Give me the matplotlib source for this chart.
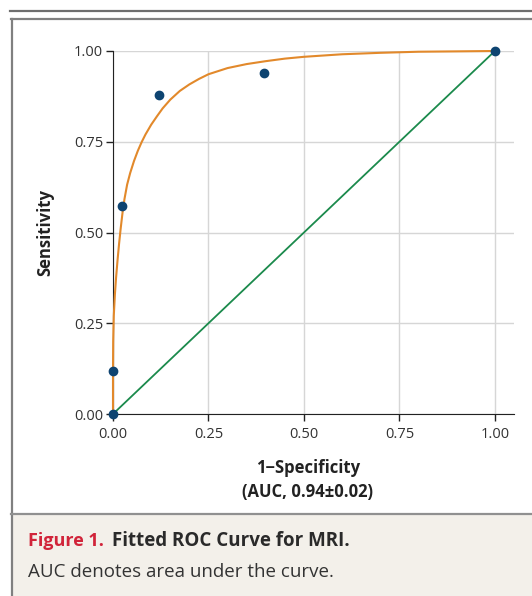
"""ROC-кривая для МРТ (Figure 1)"""

import matplotlib.pyplot as plt
from matplotlib.patches import Rectangle
from matplotlib.lines import Line2D

# наблюдаемые точки
obs_fpr = [0.0, 0.0, 0.023, 0.121, 0.396, 1.0]
obs_tpr = [0.0, 0.119, 0.574, 0.879, 0.940, 1.0]

# подогнанная кривая
fit_fpr = [0.0, 0.0, 0.0005, 0.002, 0.005, 0.008, 0.012, 0.016, 0.02, 0.025,
           0.03, 0.037, 0.045, 0.055, 0.065, 0.075, 0.085, 0.1, 0.115, 0.13,
           0.15, 0.175, 0.2, 0.225, 0.25, 0.3, 0.35, 0.4, 0.45, 0.5, 0.6,
           0.7, 0.8, 0.9, 1.0]
fit_tpr = [0.0, 0.12, 0.20, 0.27, 0.33, 0.375, 0.425, 0.47, 0.51, 0.555,
           0.592, 0.632, 0.664, 0.697, 0.725, 0.749, 0.77, 0.797, 0.82, 0.842,
           0.866, 0.89, 0.908, 0.923, 0.936, 0.953, 0.964, 0.972, 0.979, 0.984, 0.991,
           0.995, 0.998, 0.999, 1.0]

diag = [0.0, 1.0]
ticks = [0.0, 0.25, 0.5, 0.75, 1.0]
tick_labels = ['0.00', '0.25', '0.50', '0.75', '1.00']

ORANGE = '#E2892B'
GREEN = '#1B8A4C'
NAVY = '#0E4471'
FONT = 'Open Sans'

W, H = 532, 596
fig = plt.figure(figsize=(W / 100, H / 100), dpi=100)

def fy(py):
    return 1 - py / H

# рамки и подложка подписи
fig.add_artist(Rectangle((11 / W, 0), 1, (H - 514) / H, transform=fig.transFigure,
                         facecolor='#F3F0EA', edgecolor='none', zorder=0))
fig.add_artist(Line2D([10 / W, 1], [fy(11), fy(11)], color='#6E6E6E', lw=1.6))
fig.add_artist(Line2D([11 / W, 1], [fy(18.5), fy(18.5)], color='#808080', lw=1.6))
fig.add_artist(Line2D([11.5 / W, 11.5 / W], [0, fy(18.5)], color='#808080', lw=1.6))
fig.add_artist(Line2D([11 / W, 1], [fy(514), fy(514)], color='#909090', lw=1.6))

ax = fig.add_axes([113 / W, fy(414), (514 - 113) / W, (414 - 51) / H])
ax.set_xlim(0, 1.05)
ax.set_ylim(0, 1)

ax.plot(diag, diag, color=GREEN, lw=1.3, zorder=3)
ax.plot(fit_fpr, fit_tpr, color=ORANGE, lw=1.5, zorder=4, clip_on=False)
ax.plot(obs_fpr, obs_tpr, 'o', color=NAVY, markersize=6, zorder=5, clip_on=False)

ax.set_xticks(ticks)
ax.set_xticklabels(tick_labels)
ax.set_yticks(ticks)
ax.set_yticklabels(tick_labels)
ax.grid(True, color='#D6D6D6', lw=1.0)
ax.set_axisbelow(True)
for s in ['top', 'right']:
    ax.spines[s].set_visible(False)
ax.spines['left'].set_color('#222222')
ax.spines['bottom'].set_color('#222222')
ax.tick_params(direction='out', length=5, width=1, color='#222222',
               labelsize=10.5, labelcolor='#333333', pad=2)
ax.tick_params(axis='x', pad=4)
for lab in ax.get_xticklabels() + ax.get_yticklabels():
    lab.set_family(FONT)

# подписи осей
fig.text(45 / W, fy(232), 'Sensitivity', rotation=90, fontsize=12,
         fontweight='bold', family=FONT, color='#222222', ha='center', va='center')
fig.text(308 / W, fy(468), '1\u2212Specificity', fontsize=12, fontweight='bold',
         family=FONT, color='#222222', ha='center', va='center')
fig.text(308 / W, fy(492), '(AUC, 0.94\u00b10.02)', fontsize=12, fontweight='bold',
         family=FONT, color='#222222', ha='center', va='center')

# подпись рисунка
t1 = fig.text(28 / W, fy(541), 'Figure 1.', color='#D1243A', fontsize=13,
              fontweight='bold', family=FONT, va='center')
fig.canvas.draw()
x_end = t1.get_window_extent().x1
fig.text((x_end + 8) / W, fy(541), 'Fitted ROC Curve for MRI.', color='#2A2A2A',
         fontsize=13.5, fontweight='bold', family=FONT, va='center')
fig.text(28 / W, fy(572), 'AUC denotes area under the curve.', color='#333333',
         fontsize=13.5, family=FONT, va='center')

fig.savefig('out.png', dpi=100)
